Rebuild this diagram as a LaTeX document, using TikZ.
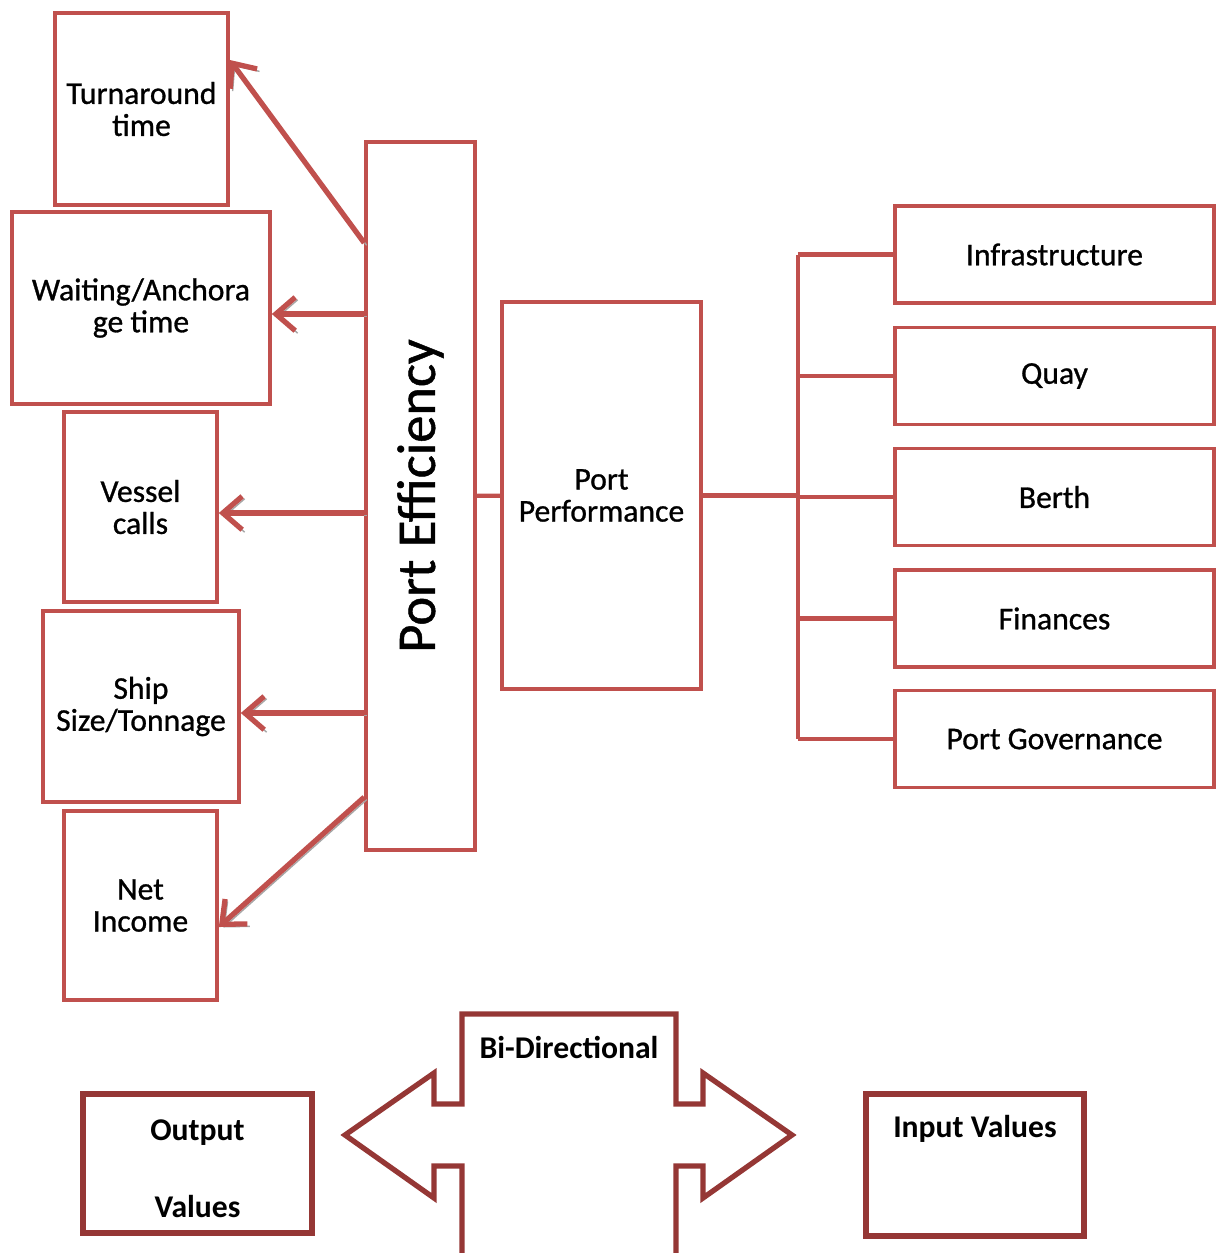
\documentclass[tikz,border=0pt]{standalone}
\usepackage{fontspec}
\setmainfont{Carlito}
\newfontfamily\heavyfont{Carlito}[FakeBold=0.9]
\usetikzlibrary{arrows.meta}
\definecolor{boxred}{HTML}{C0504D}
\definecolor{darkred}{HTML}{953735}

\begin{document}
\begin{tikzpicture}[x=0.01cm, y=-0.01cm,
    box/.style={draw=boxred, line width=1pt, align=center, inner sep=2pt, font=\heavyfont\fontsize{9}{9.1}\selectfont},
    arr/.style={draw=boxred, line width=1.5pt, -{Straight Barb[length=5.5pt,width=9.5pt]},
        preaction={draw=gray!70, transform canvas={shift={(0.7pt,-0.7pt)}}}},
    link/.style={draw=boxred, line width=1.2pt},
    outbox/.style={draw=darkred, line width=1.5pt, align=center, font=\bfseries\fontsize{9}{11}\selectfont}]
    \useasboundingbox (0,0) rectangle (1219,1253);

    \node[box, minimum width=1.73cm, minimum height=1.92cm] (tat) at (141.5,109) {Turnaround\\time};
    \node[box, minimum width=2.58cm, minimum height=1.92cm] (wat) at (141,308) {Waiting/Anchora\\ge time};
    \node[box, minimum width=1.53cm, minimum height=1.90cm] (vc) at (140.5,507) {Vessel\\calls};
    \node[box, minimum width=1.96cm, minimum height=1.91cm] (ss) at (141,706.5) {Ship\\Size/Tonnage};
    \node[box, minimum width=1.53cm, minimum height=1.89cm] (ni) at (140.5,905.5) {Net\\Income};

    \node[box, minimum width=1.09cm, minimum height=7.08cm, font=\heavyfont\fontsize{15.5}{15.5}\selectfont] (pe) at (420.5,496) {\rotatebox{90}{Port Efficiency}};
    \node[box, minimum width=1.99cm, minimum height=3.87cm] (pp) at (601.5,495.5) {Port\\Performance};

    \foreach \n/\y/\t in {infra/254.5/Infrastructure, quay/376/Quay, berth/497/Berth, fin/618.5/Finances, gov/739/Port Governance}
        \node[box, minimum width=3.19cm, minimum height=0.97cm] (\n) at (1054.5,\y) {\t};

    \coordinate (tr) at (798,495.5);
    \draw[link] (pe) -- (pp);
    \draw[link] (pp) -- (tr);
    \draw[link] (tr |- infra.west) -- (tr |- gov.west);
    \foreach \n in {infra, quay, berth, fin, gov}
        \draw[link] (tr |- \n.west) -- (\n.west);

    \draw[arr] ([yshift=2.53cm]pe.west) -- ([yshift=0.49cm]tat.east);
    \draw[arr] ([yshift=-0.06cm]pe.west |- wat.east) -- ([yshift=-0.06cm]wat.east);
    \draw[arr] ([yshift=-0.06cm]pe.west |- vc.east) -- ([yshift=-0.06cm]vc.east);
    \draw[arr] ([yshift=-0.065cm]pe.west |- ss.east) -- ([yshift=-0.065cm]ss.east);
    \draw[arr] ([yshift=-3.01cm]pe.west) -- ([yshift=-0.215cm]ni.east);

    \node[outbox, minimum width=2.29cm, minimum height=1.39cm] (ov) at (197.5,1163.5) {\rule{0pt}{9pt}Output\\[11pt]Values};
    \node[outbox, minimum width=2.18cm, minimum height=1.42cm,
        label={[anchor=center, yshift=-0.38cm, font=\bfseries\fontsize{9}{11}\selectfont]north:Input Values}] (iv) at (975,1165) {};

    \draw[darkred, line width=1.5pt] (462,1253) -- (462,1166) -- (434,1166) -- (434,1198) -- (345,1135)
        -- (434,1073) -- (434,1104) -- (462,1104) -- (462,1014) -- (676,1014) -- (676,1104)
        -- (703,1104) -- (703,1073) -- (792,1135) -- (703,1198) -- (703,1166) -- (676,1166) -- (676,1253);
    \node[font=\bfseries\fontsize{9}{11}\selectfont] (bd) at (569,1047) {Bi-Directional};
\end{tikzpicture}
\end{document}
